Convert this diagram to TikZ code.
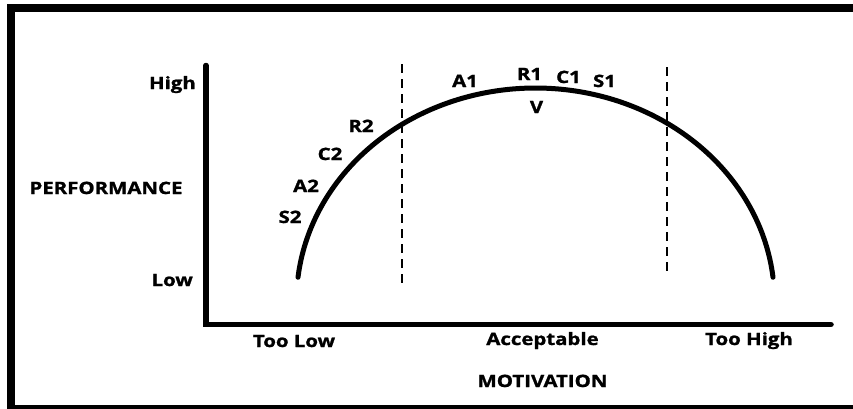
\documentclass[tikz,border=0pt]{standalone}
\usepackage{fontspec}
\setmainfont{Open Sans}[BoldFeatures={FakeBold=1.2}]
\tikzset{
  lab/.style={font=\bfseries\fontsize{17}{17}\selectfont, inner sep=0pt, anchor=base},
  frameline/.style={line width=8pt},
  axisline/.style={line width=5.5pt, line cap=round, line join=miter},
  curveline/.style={line width=5pt, line cap=round},
  divline/.style={line width=1.3pt, dash pattern=on 9pt off 6pt},
}
\newcommand{\widetxt}[1]{\scalebox{1.2}[1]{#1}}
\begin{document}
\begin{tikzpicture}[x=1pt,y=-1pt]
\clip (0,0) rectangle (853,408);
\fill[white] (0,0) rectangle (853,408);
% frame
\draw[frameline] (870,8) -- (11,8) -- (11,409) -- (870,409);
% axes
\coordinate (ytop) at (206,65.5);
\coordinate (origin) at (206,324.5);
\coordinate (xend) at (831,324.5);
\draw[axisline] (ytop) -- (origin) -- (xend);
% dividers
\coordinate (d1t) at (402,64);
\coordinate (d1b) at (402,283);
\coordinate (d2t) at (667,67);
\coordinate (d2b) at (667,276);
\draw[divline] (d1t) -- (d1b);
\draw[divline] (d2t) -- (d2b);
% curve
\draw[curveline] plot[smooth, domain=173.6:6.4, samples=120] ({535.5+239*cos(\x)}, {301-213*sin(\x)});
% labels
\node[lab, anchor=base east] (high) at (196,89) {\widetxt{High}};
\node[lab] (perf) at (106,194) {\widetxt{PERFORMANCE}};
\node[lab, anchor=base east] (low) at (193,286) {\widetxt{Low}};
\node[lab] (r2) at (361,132) {\widetxt{R2}};
\node[lab] (c2) at (330,160) {\widetxt{C2}};
\node[lab] (a2) at (306,192) {\widetxt{A2}};
\node[lab] (s2) at (290,223) {\widetxt{S2}};
\node[lab] (a1) at (465,87) {\widetxt{A1}};
\node[lab] (r1) at (529.5,80) {\widetxt{R1}};
\node[lab] (c1) at (568.5,83) {\widetxt{C1}};
\node[lab] (s1) at (604.5,87) {\widetxt{S1}};
\node[lab] (v) at (536.5,113) {\widetxt{V}};
\node[lab] (toolow) at (294,347) {\widetxt{Too Low}};
\node[lab] (acc) at (542.5,345) {\widetxt{Acceptable}};
\node[lab] (toohigh) at (749,345) {\widetxt{Too High}};
\node[lab] (mot) at (542.5,387) {\widetxt{MOTIVATION}};
\end{tikzpicture}
\end{document}
